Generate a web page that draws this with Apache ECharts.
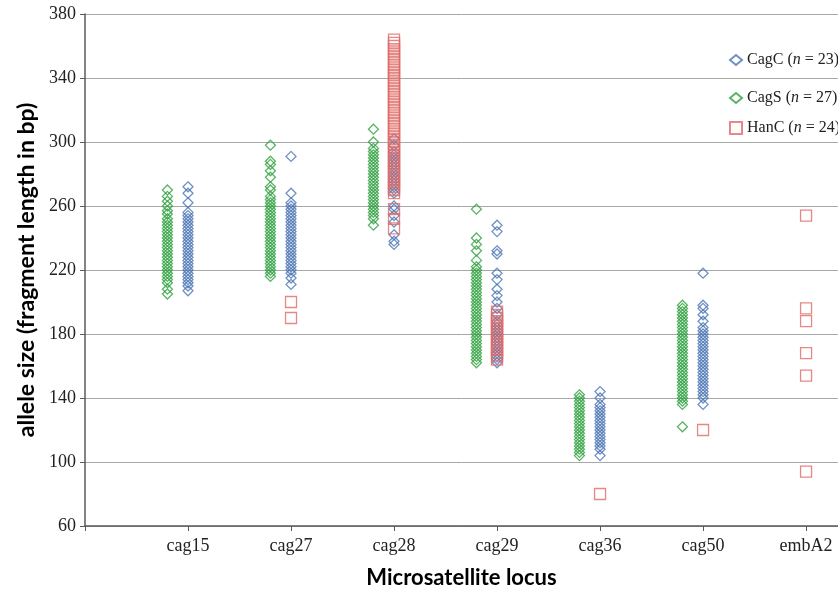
<!DOCTYPE html>
<html>
<head>
<meta charset="utf-8">
<script src="https://cdn.jsdelivr.net/npm/echarts@6/dist/echarts.min.js"></script>
<style>html,body{margin:0;padding:0;background:#fff}#c{width:838px;height:593px}</style>
</head>
<body>
<div id="c"></div>
<script>
// Categories (x positions 1..7)
const loci = ['cag15', 'cag27', 'cag28', 'cag29', 'cag36', 'cag50', 'embA2'];
const yTicks = [60, 100, 140, 180, 220, 260, 300, 340, 380];

// CagC (blue diamonds) allele sizes per locus
const cagC_cag15 = [272, 268, 262, 256, 254, 252, 250, 248, 246, 244, 242, 240, 238, 236, 234, 232, 230, 228, 226, 224, 222, 220, 218, 216, 214, 212, 210, 207];
const cagC_cag27 = [291, 268, 262, 260, 258, 256, 254, 252, 250, 248, 246, 244, 242, 240, 238, 236, 234, 232, 230, 228, 226, 224, 222, 220, 218, 215, 211];
const cagC_cag28 = [302, 298, 294, 292, 290, 288, 286, 284, 282, 280, 278, 276, 274, 272, 270, 268, 260, 258, 254, 250, 242, 238, 236];
const cagC_cag29 = [248, 244, 232, 230, 218, 214, 208, 204, 200, 196, 192, 188, 186, 184, 182, 180, 178, 176, 174, 172, 170, 168, 166, 164, 162];
const cagC_cag36 = [144, 140, 136, 134, 132, 130, 128, 126, 124, 122, 120, 118, 116, 114, 112, 110, 108, 104];
const cagC_cag50 = [218, 198, 196, 192, 188, 184, 182, 180, 178, 176, 174, 172, 170, 168, 166, 164, 162, 160, 158, 156, 154, 152, 150, 148, 146, 144, 142, 140, 136];
const cagC_embA2 = [];

// CagS (green diamonds)
const cagS_cag15 = [270, 266, 263, 260, 257, 255, 252, 250, 248, 246, 244, 242, 240, 238, 236, 234, 232, 230, 228, 226, 224, 222, 220, 218, 216, 214, 212, 208, 205];
const cagS_cag27 = [298, 288, 286, 282, 278, 272, 270, 266, 264, 262, 260, 258, 256, 254, 252, 250, 248, 246, 244, 242, 240, 238, 236, 234, 232, 230, 228, 226, 224, 222, 220, 218, 216];
const cagS_cag28 = [308, 300, 296, 294, 292, 290, 288, 286, 284, 282, 280, 278, 276, 274, 272, 270, 268, 266, 264, 262, 260, 258, 256, 254, 252, 248];
const cagS_cag29 = [258, 240, 236, 232, 226, 222, 220, 218, 216, 214, 212, 210, 208, 206, 204, 202, 200, 198, 196, 194, 192, 190, 188, 186, 184, 182, 180, 178, 176, 174, 172, 170, 168, 166, 164, 162];
const cagS_cag36 = [142, 140, 138, 136, 134, 132, 130, 128, 126, 124, 122, 120, 118, 116, 114, 112, 110, 108, 106, 104];
const cagS_cag50 = [198, 196, 194, 192, 190, 188, 186, 184, 182, 180, 178, 176, 174, 172, 170, 168, 166, 164, 162, 160, 158, 156, 154, 152, 150, 148, 146, 144, 142, 140, 138, 136, 122];
const cagS_embA2 = [];

// HanC (red squares)
const hanC_cag15 = [];
const hanC_cag27 = [200, 190];
const hanC_cag28 = [364, 362, 360, 358, 356, 354, 352, 350, 348, 346, 344, 342, 340, 338, 336, 334, 332, 330, 328, 326, 324, 322, 320, 318, 316, 314, 312, 310, 308, 306, 304, 302, 300, 298, 296, 294, 292, 290, 288, 286, 284, 282, 280, 278, 276, 274, 272, 270, 268, 258, 252, 246];
const hanC_cag29 = [194, 192, 190, 188, 186, 184, 182, 180, 178, 176, 174, 172, 170, 168, 166, 164];
const hanC_cag36 = [80];
const hanC_cag50 = [120];
const hanC_embA2 = [254, 196, 188, 168, 154, 94];

const cagC = [cagC_cag15, cagC_cag27, cagC_cag28, cagC_cag29, cagC_cag36, cagC_cag50, cagC_embA2];
const cagS = [cagS_cag15, cagS_cag27, cagS_cag28, cagS_cag29, cagS_cag36, cagS_cag50, cagS_embA2];
const hanC = [hanC_cag15, hanC_cag27, hanC_cag28, hanC_cag29, hanC_cag36, hanC_cag50, hanC_embA2];
const seriesNames = ['CagC', 'CagS', 'HanC'];
const sampleSizes = [23, 27, 24];

function toPoints(groups, offset) {
  const out = [];
  groups.forEach((vals, i) => vals.forEach(v => out.push([i + 1 + offset, v])));
  return out;
}

const BLUE = '#4a74b4', GREEN = '#30a040', RED = '#e06a66';
const serif = 'Liberation Serif';
const sans = 'Lato';

function legendAt(name, top, n) {
  return {
    data: [name], top: top, left: 724, orient: 'vertical',
    itemWidth: 12, itemHeight: name === 'HanC' ? 12 : 10, itemGap: 0,
    formatter: nm => nm + ' ({i|n} = ' + n + ')',
    textStyle: { fontFamily: serif, fontSize: 16, color: '#222',
      rich: { i: { fontFamily: serif, fontSize: 16, fontStyle: 'italic', color: '#222' } } }
  };
}

const chart = echarts.init(document.getElementById('c'), null, { renderer: 'canvas' });
chart.setOption({
  animation: false,
  backgroundColor: '#fff',
  grid: { left: 85, top: 14, bottom: 67, right: 0, containLabel: false, outerBoundsMode: 'none' },
  legend: [legendAt('CagC', 47, sampleSizes[0]), legendAt('CagS', 85, sampleSizes[1]), legendAt('HanC', 115, sampleSizes[2])],
  xAxis: {
    type: 'value', min: 0, max: 7.31, interval: 1,
    name: 'Microsatellite locus', nameLocation: 'middle', nameGap: 41,
    nameTextStyle: { fontFamily: sans, fontWeight: 'bold', fontSize: 22, color: '#000' },
    axisLine: { show: true, lineStyle: { color: '#5a5a5a', width: 1.5 } },
    axisTick: { show: true, inside: false, length: 5, lineStyle: { color: '#5a5a5a' } },
    splitLine: { show: false },
    axisLabel: { margin: 11, fontFamily: serif, fontSize: 18, color: '#222', showMaxLabel: false,
      formatter: v => (Number.isInteger(v) && v >= 1 && v <= loci.length) ? loci[v - 1] : '' }
  },
  yAxis: {
    type: 'value', min: yTicks[0], max: yTicks[yTicks.length - 1], interval: 40,
    name: 'allele size (fragment length in bp)', nameLocation: 'middle', nameGap: 47, nameRotate: 90,
    nameTextStyle: { fontFamily: sans, fontWeight: 'bold', fontSize: 23, color: '#000' },
    axisLine: { show: true, lineStyle: { color: '#5a5a5a', width: 1.5 } },
    axisTick: { show: true, inside: false, length: 5, lineStyle: { color: '#5a5a5a' } },
    splitLine: { show: true, lineStyle: { color: '#a8a8a8', width: 1 } },
    axisLabel: { margin: 9, fontFamily: serif, fontSize: 18, color: '#222' }
  },
  series: [
    { name: seriesNames[0], type: 'scatter', symbol: 'diamond', symbolSize: 10, data: toPoints(cagC, 0),
      itemStyle: { color: 'rgba(255,255,255,0)', borderColor: BLUE, borderWidth: 1.3 } },
    { name: seriesNames[1], type: 'scatter', symbol: 'diamond', symbolSize: 10, data: toPoints(cagS, -0.2),
      itemStyle: { color: 'rgba(255,255,255,0)', borderColor: GREEN, borderWidth: 1.3 } },
    { name: seriesNames[2], type: 'scatter', symbol: 'rect', symbolSize: 11, data: toPoints(hanC, 0),
      itemStyle: { color: 'rgba(255,255,255,0)', borderColor: RED, borderWidth: 1.3 } }
  ]
});
</script>
</body>
</html>
